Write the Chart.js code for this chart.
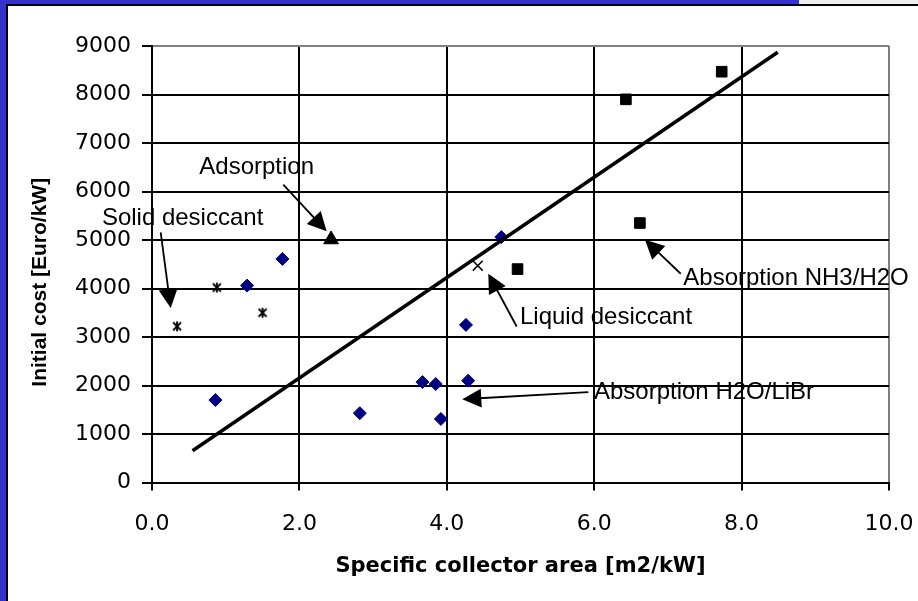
<!DOCTYPE html>
<html><head><meta charset="utf-8">
<script src="https://cdn.jsdelivr.net/npm/chart.js@4/dist/chart.umd.min.js"></script>
<style>html,body{margin:0;padding:0;background:#fff;}canvas{display:block;}</style>
</head><body>
<canvas id="c" width="918" height="601"></canvas>
<script>
// ---- data ----
const librX = [0.86, 1.29, 1.77, 2.82, 3.67, 3.85, 3.92, 4.26, 4.29, 4.74];
const librY = [1700, 4060, 4610, 1430, 2070, 2030, 1310, 3250, 2100, 5060];
const nh3X = [4.96, 6.43, 6.62, 7.73];
const nh3Y = [4400, 7900, 5350, 8470];
const solidX = [0.34, 0.88, 1.50];
const solidY = [3220, 4020, 3500];
const liquidX = [4.42];
const liquidY = [4470];
const adsX = [2.43];
const adsY = [5010];
const trendX = [0.55, 8.49];
const trendY = [656, 8870];
const xTickValues = [0, 2, 4, 6, 8, 10];
const yTickValues = [0, 1000, 2000, 3000, 4000, 5000, 6000, 7000, 8000, 9000];
const xTitle = 'Specific collector area [m2/kW]';
const yTitle = 'Initial cost [Euro/kW]';

const annotLabels = ['Adsorption', 'Solid desiccant', 'Liquid desiccant', 'Absorption H2O/LiBr', 'Absorption NH3/H2O'];
const annotTextX = [0.642, -0.68, 4.993, 5.997, 7.209];
const annotTextY = [6500, 5440, 3400, 1860, 4200];
const arrowFromX = [1.781, 0.118, 4.948, 5.920, 7.174];
const arrowFromY = [6142, 5157, 3216, 1862, 4304];
const arrowToX = [2.370, 0.254, 4.563, 4.210, 6.689];
const arrowToY = [5178, 3596, 4304, 1718, 5006];

const pts = (xs, ys) => xs.map((x, i) => ({x, y: ys[i]}));

function makeStar() {
  const c = document.createElement('canvas');
  c.width = 12; c.height = 12;
  const g = c.getContext('2d');
  g.strokeStyle = '#000'; g.lineWidth = 1.8;
  g.beginPath();
  g.moveTo(2, 2); g.lineTo(10, 10);
  g.moveTo(10, 2); g.lineTo(2, 10);
  g.moveTo(6, 1); g.lineTo(6, 11);
  g.stroke();
  return c;
}

const framePlugin = {
  id: 'frame',
  beforeDraw(chart) {
    const ctx = chart.ctx;
    ctx.save();
    ctx.fillStyle = '#ffffff';
    ctx.fillRect(0, 0, 918, 601);
    ctx.fillStyle = '#eeeeee';
    ctx.fillRect(799, 0, 119, 4);
    ctx.fillStyle = '#3333cc';
    ctx.fillRect(0, 0, 799, 4);
    ctx.fillRect(0, 0, 6, 601);
    ctx.fillStyle = '#000';
    ctx.fillRect(6, 4, 912, 2);
    ctx.fillRect(6, 4, 2, 597);
    ctx.restore();
  }
};

const annotPlugin = {
  id: 'annot',
  afterDatasetsDraw(chart) {
    const ctx = chart.ctx, xs = chart.scales.x, ys = chart.scales.y, ca = chart.chartArea;
    ctx.save();
    ctx.fillStyle = '#000'; ctx.strokeStyle = '#000';
    ctx.lineWidth = 1.8;
    for (let i = 0; i < annotLabels.length; i++) {
      const x0 = xs.getPixelForValue(arrowFromX[i]), y0 = ys.getPixelForValue(arrowFromY[i]);
      const x1 = xs.getPixelForValue(arrowToX[i]), y1 = ys.getPixelForValue(arrowToY[i]);
      const dx = x1 - x0, dy = y1 - y0, L = Math.hypot(dx, dy);
      const ux = dx / L, uy = dy / L, hl = 19, hw = 9.5;
      const bx = x1 - ux * hl, by = y1 - uy * hl;
      ctx.beginPath(); ctx.moveTo(x0, y0); ctx.lineTo(bx + ux * 2, by + uy * 2); ctx.stroke();
      ctx.beginPath();
      ctx.moveTo(x1, y1);
      ctx.lineTo(bx - uy * hw, by + ux * hw);
      ctx.lineTo(bx + uy * hw, by - ux * hw);
      ctx.closePath(); ctx.fill();
    }
    ctx.font = '24px "Liberation Sans", Arial, sans-serif';
    ctx.textAlign = 'left'; ctx.textBaseline = 'middle';
    for (let i = 0; i < annotLabels.length; i++) {
      ctx.fillText(annotLabels[i], xs.getPixelForValue(annotTextX[i]), ys.getPixelForValue(annotTextY[i]));
    }
    // y axis title
    ctx.translate(40, (ca.top + ca.bottom) / 2 + 18);
    ctx.rotate(-Math.PI / 2);
    ctx.font = 'bold 21px "Liberation Sans", Arial, sans-serif';
    ctx.textAlign = 'center'; ctx.textBaseline = 'middle';
    ctx.fillText(yTitle, 0, 0);
    ctx.restore();
  }
};

new Chart(document.getElementById('c'), {
  type: 'scatter',
  data: {
    datasets: [
      {label: 'Trend', type: 'line', data: pts(trendX, trendY), borderColor: '#000', borderWidth: 3.5, pointRadius: 0, fill: false},
      {label: 'Absorption H2O/LiBr', data: pts(librX, librY), pointStyle: 'rectRot', pointRadius: 6.5, backgroundColor: '#000080', borderColor: '#000080', borderWidth: 1},
      {label: 'Absorption NH3/H2O', data: pts(nh3X, nh3Y), pointStyle: 'rect', pointRadius: 7.5, backgroundColor: '#000', borderColor: '#000', borderWidth: 1},
      {label: 'Solid desiccant', data: pts(solidX, solidY), pointStyle: makeStar(), pointRadius: 6},
      {label: 'Liquid desiccant', data: pts(liquidX, liquidY), pointStyle: 'crossRot', pointRadius: 7, borderColor: '#000', borderWidth: 1.5},
      {label: 'Adsorption', data: pts(adsX, adsY), pointStyle: 'triangle', pointRadius: 8.5, backgroundColor: '#000', borderColor: '#000', borderWidth: 1}
    ]
  },
  options: {
    responsive: false,
    animation: false,
    devicePixelRatio: 1,
    layout: {padding: {left: 0, top: 46, right: 29, bottom: 0}},
    plugins: {legend: {display: false}, tooltip: {enabled: false}},
    scales: {
      x: {
        type: 'linear', min: 0, max: 10,
        afterBuildTicks: s => { s.ticks = xTickValues.map(v => ({value: v})); },
        afterFit: s => { s.height = 118.5; s.paddingLeft = 0; s.paddingRight = 0; },
        ticks: {callback: v => Number(v).toFixed(1), color: '#000', padding: 21,
                font: {family: '"DejaVu Sans", sans-serif', size: 22}},
        grid: {color: c => (c.tick && c.tick.value === 10) ? '#808080' : '#000', lineWidth: 2,
               tickLength: 8, tickColor: '#000', tickWidth: 2},
        border: {color: '#000', width: 2},
        title: {display: true, text: xTitle, color: '#000',
                font: {family: '"DejaVu Sans", sans-serif', size: 21, weight: 'bold'},
                padding: {top: 0, bottom: 22}}
      },
      y: {
        type: 'linear', min: 0, max: 9000,
        afterBuildTicks: s => { s.ticks = yTickValues.map(v => ({value: v})); },
        afterFit: s => { s.width = 152; s.paddingTop = 0; s.paddingBottom = 0; },
        ticks: {callback: v => String(v), color: '#000', padding: 11,
                font: {family: '"DejaVu Sans", sans-serif', size: 22}},
        grid: {color: c => (c.tick && c.tick.value === 9000) ? '#808080' : '#000', lineWidth: 2,
               tickLength: 10, tickColor: '#000', tickWidth: 2},
        border: {color: '#000', width: 2},
        title: {display: false}
      }
    }
  },
  plugins: [framePlugin, annotPlugin]
});
</script>
</body></html>
